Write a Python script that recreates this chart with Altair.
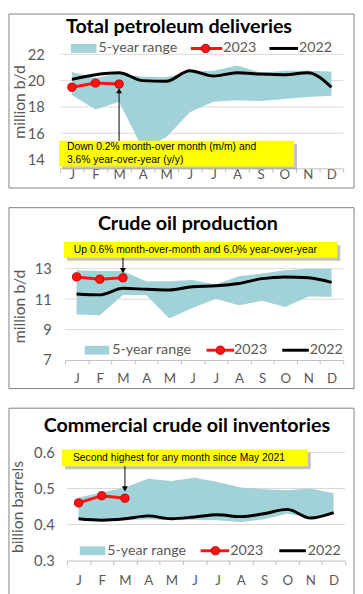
import altair as alt
import pandas as pd

MONTHS = ["Jan", "Feb", "Mar", "Apr", "May", "Jun", "Jul", "Aug", "Sep", "Oct", "Nov", "Dec"]
LEGEND_LABELS = ["5-year range", "2023", "2022"]
TITLES = ["Total petroleum deliveries", "Crude oil production", "Commercial crude oil inventories"]
Y_TITLES = ["million b/d", "million b/d", "billion barrels"]

# Panel 1: total petroleum deliveries (million b/d)
P1_LOW = [18.9, 17.8, 18.4, 14.8, 15.7, 17.6, 18.4, 18.5, 18.45, 18.6, 18.75, 18.85]
P1_HIGH = [20.65, 20.2, 20.55, 20.3, 20.25, 20.7, 20.75, 21.15, 20.6, 20.75, 20.75, 20.7]
P1_2022 = [20.1, 20.45, 20.6, 20.0, 19.95, 20.75, 20.35, 20.6, 20.5, 20.45, 20.6, 19.5]
P1_2023 = [19.5, 19.82, 19.74]
P1_TICKS = [14, 16, 18, 20, 22]
P1_GRID = [16, 18, 20, 22]
P1_NOTE = ["Down 0.2% month-over month (m/m) and", "3.6% year-over-year (y/y)"]

# Panel 2: crude oil production (million b/d)
P2_LOW = [9.99, 9.95, 11.28, 11.28, 9.73, 10.42, 11.02, 10.6, 10.89, 10.48, 11.17, 11.15]
P2_HIGH = [12.9, 12.85, 12.85, 12.18, 12.18, 12.25, 11.97, 12.5, 12.68, 12.9, 13.0, 13.0]
P2_2022 = [11.34, 11.28, 11.71, 11.65, 11.6, 11.82, 11.88, 12.03, 12.35, 12.46, 12.4, 12.1]
P2_2023 = [12.46, 12.31, 12.4]
P2_TICKS = [7, 9, 11, 13]
P2_GRID = [9, 11, 13]
P2_NOTE = ["Up 0.6% month-over-month and 6.0% year-over-year"]

# Panel 3: commercial crude oil inventories (billion barrels)
P3_LOW = [0.414, 0.41, 0.412, 0.415, 0.412, 0.413, 0.412, 0.407, 0.415, 0.43, 0.418, 0.428]
P3_HIGH = [0.475, 0.489, 0.503, 0.527, 0.521, 0.53, 0.518, 0.503, 0.498, 0.495, 0.5, 0.487]
P3_2022 = [0.416, 0.412, 0.416, 0.424, 0.416, 0.421, 0.427, 0.422, 0.43, 0.442, 0.418, 0.433]
P3_2023 = [0.46, 0.48, 0.473]
P3_TICKS = [0.3, 0.4, 0.5, 0.6]
P3_GRID = [0.4, 0.5, 0.6]
P3_NOTE = ["Second highest for any month since May 2021"]

ARROW_MONTH = "Mar"

FONT = "Lato"
NOTE_FONT = "Liberation Sans"
BAND = "#a0d2d7"
RED = "#ff1414"
RED_EDGE = "#c00000"
GRID = "#d9d9d9"
AXIS_C = "#bfbfbf"
TEXT_C = "#595959"
BORDER = "#7f7f7f"


def one(v):
    return pd.DataFrame({"t": [v]})


def panel(L):
    W, H = L["w"], L["h"]
    xscale = alt.Scale(type="band", domain=MONTHS, range=[L["x0"], W], paddingInner=0, paddingOuter=0)
    xaxis = alt.Axis(title=None,
                     labelExpr="datum.value ? substring(datum.value, 0, 1) : ''",
                     labelAngle=0, labelFont=FONT, labelFontSize=13.5, labelColor=TEXT_C,
                     labelPadding=L["xpad"], labelBaseline="middle",
                     domain=True, domainColor=AXIS_C, domainWidth=1,
                     ticks=True, tickColor=AXIS_C, tickSize=4, tickBand="extent", grid=False)
    yscale = alt.Scale(domain=L["domain"], nice=False, zero=False)
    yaxis = alt.Axis(title=L["ytitle"], values=L["ticks"], format=L["fmt"], grid=False,
                     domain=False, ticks=False, labelFont=FONT, labelFontSize=15,
                     labelColor=TEXT_C, labelPadding=L["ypad"], titleFont=FONT,
                     titleFontSize=16, titleFontWeight="normal", titleColor=TEXT_C,
                     titleAngle=-90, titleX=L["tx"], titleY=L["ty"], titleAlign="center",
                     titleBaseline="middle")

    def X():
        return alt.X("month:O", sort=MONTHS, scale=xscale, axis=xaxis)

    def Y(f):
        return alt.Y(f, scale=yscale, axis=yaxis)

    df = pd.DataFrame({"month": MONTHS, "lo": L["lo"], "hi": L["hi"], "y22": L["y22"]})
    d23 = pd.DataFrame({"month": MONTHS[:len(L["y23"])], "v": L["y23"]})

    layers = []
    bx = L["border"]
    layers.append(alt.Chart(one(0)).mark_rect(fillOpacity=0, stroke=BORDER, strokeWidth=1).encode(
        x=alt.value(bx[0]), x2=alt.value(bx[1]), y=alt.value(bx[2]), y2=alt.value(bx[3])))
    layers.append(alt.Chart(pd.DataFrame({"g": L["grid"]})).mark_rule(color=GRID, strokeWidth=1).encode(
        x=alt.value(L["x0"]), x2=alt.value(L["gx1"]), y=Y("g:Q")))
    layers.append(alt.Chart(df).mark_area(color=BAND, opacity=1).encode(x=X(), y=Y("lo:Q"), y2="hi:Q"))
    layers.append(alt.Chart(df).mark_line(color="black", strokeWidth=3, interpolate="monotone").encode(
        x=X(), y=Y("y22:Q")))
    layers.append(alt.Chart(d23).mark_line(color=RED, strokeWidth=3).encode(x=X(), y=Y("v:Q")))
    layers.append(alt.Chart(d23).mark_circle(size=70, color=RED, opacity=1, stroke=RED_EDGE,
                                             strokeWidth=1).encode(x=X(), y=Y("v:Q")))
    # annotation
    nb = L["note_box"]
    layers.append(alt.Chart(one(0)).mark_rect(color="#9a9a9a", opacity=0.6).encode(
        x=alt.value(nb[0] + 3), x2=alt.value(nb[1] + 3), y=alt.value(nb[2] + 3), y2=alt.value(nb[3] + 3)))
    layers.append(alt.Chart(one(0)).mark_rect(color="#ffff00", opacity=1).encode(
        x=alt.value(nb[0]), x2=alt.value(nb[1]), y=alt.value(nb[2]), y2=alt.value(nb[3])))
    for line, (tx, ty) in zip(L["note"], L["note_pos"]):
        layers.append(alt.Chart(one(line)).mark_text(align="left", baseline="middle", font=NOTE_FONT,
                                                     fontSize=10.5, color="black").encode(
            x=alt.value(tx), y=alt.value(ty), text="t:N"))
    adf = pd.DataFrame({"month": [ARROW_MONTH]})
    a0, a1, tip, shape = L["arrow"]
    layers.append(alt.Chart(adf).mark_rule(color="black", strokeWidth=1).encode(
        x=X(), y=alt.value(a0), y2=alt.value(a1)))
    layers.append(alt.Chart(adf).mark_point(shape=shape, filled=True, color="black", size=36, opacity=1).encode(
        x=X(), y=alt.value(tip)))
    # legend
    ly = L["ly"]
    sw = L["sw"]
    layers.append(alt.Chart(one(0)).mark_rect(color=BAND, opacity=1).encode(
        x=alt.value(sw[0]), x2=alt.value(sw[1]), y=alt.value(ly - 4.5), y2=alt.value(ly + 4.5)))
    rl = L["red"]
    layers.append(alt.Chart(one(0)).mark_rule(color=RED, strokeWidth=3).encode(
        x=alt.value(rl[0]), x2=alt.value(rl[1]), y=alt.value(ly)))
    layers.append(alt.Chart(one(0)).mark_circle(size=70, color=RED, opacity=1, stroke=RED_EDGE,
                                                strokeWidth=1).encode(x=alt.value(rl[2]), y=alt.value(ly)))
    bl = L["black"]
    layers.append(alt.Chart(one(0)).mark_rule(color="black", strokeWidth=3).encode(
        x=alt.value(bl[0]), x2=alt.value(bl[1]), y=alt.value(ly)))
    for lab, lx in zip(LEGEND_LABELS, L["lt"]):
        layers.append(alt.Chart(one(lab)).mark_text(align="left", baseline="middle", font=FONT,
                                                    fontSize=14.5, color=TEXT_C).encode(
            x=alt.value(lx), y=alt.value(ly), text="t:N"))
    # title
    layers.append(alt.Chart(one(L["title"])).mark_text(align="center", baseline="middle", font=FONT,
                                                       fontSize=20, fontWeight="bold", color="black").encode(
        x=alt.value(L["title_xy"][0]), y=alt.value(L["title_xy"][1]), text="t:N"))
    return alt.layer(*layers).properties(width=W, height=H)


P1 = dict(w=288, h=116, x0=0, gx1=288, domain=[13.33, 22], ticks=P1_TICKS, grid=P1_GRID, fmt="d",
          lo=P1_LOW, hi=P1_HIGH, y22=P1_2022, y23=P1_2023, ytitle=Y_TITLES[0], title=TITLES[0],
          xpad=2, ypad=16, tx=-41, ty=48, border=(-52, 299, -41, 136), title_xy=(121, -28),
          note=P1_NOTE, note_box=(-1, 238, 88, 114), note_pos=[(7, 94.5), (7, 107.5)],
          arrow=(88, 39, 37, "triangle-up"),
          ly=-6, sw=(11, 37), red=(133, 165, 148), black=(213, 242), lt=[39, 166, 243])

P2 = dict(w=288, h=103, x0=5, gx1=288, domain=[7, 13.65], ticks=P2_TICKS, grid=P2_GRID, fmt="d",
          lo=P2_LOW, hi=P2_HIGH, y22=P2_2022, y23=P2_2023, ytitle=Y_TITLES[1], title=TITLES[1],
          xpad=15, ypad=9, tx=-41, ty=48, border=(-52, 299, -52, 132), title_xy=(130, -35),
          note=P2_NOTE, note_box=(4, 282, -17, -1), note_pos=[(14, -9)],
          arrow=(-1, 10, 12, "triangle-down"),
          ly=93, sw=(25, 50), red=(149, 177, 163), black=(226, 253), lt=[53, 177, 254])

P3 = dict(w=290, h=110, x0=7, gx1=290, domain=[0.3, 0.6], ticks=P3_TICKS, grid=P3_GRID, fmt=".1f",
          lo=P3_LOW, hi=P3_HIGH, y22=P3_2022, y23=P3_2023, ytitle=Y_TITLES[2], title=TITLES[2],
          xpad=16, ypad=6, tx=-43, ty=55, border=(-52, 299, -45, 146), title_xy=(129, -27),
          note=P3_NOTE, note_box=(2, 252, -3, 14), note_pos=[(13, 5.7)],
          arrow=(14, 35, 37, "triangle-down"),
          ly=100, sw=(20, 46), red=(143, 172, 158), black=(223, 250), lt=[48, 173, 252])

chart = alt.vconcat(panel(P1), panel(P2), panel(P3), spacing=18, padding=0).configure_view(
    stroke="transparent")

chart.save("out.html", embed_options={"renderer": "svg", "actions": False})
